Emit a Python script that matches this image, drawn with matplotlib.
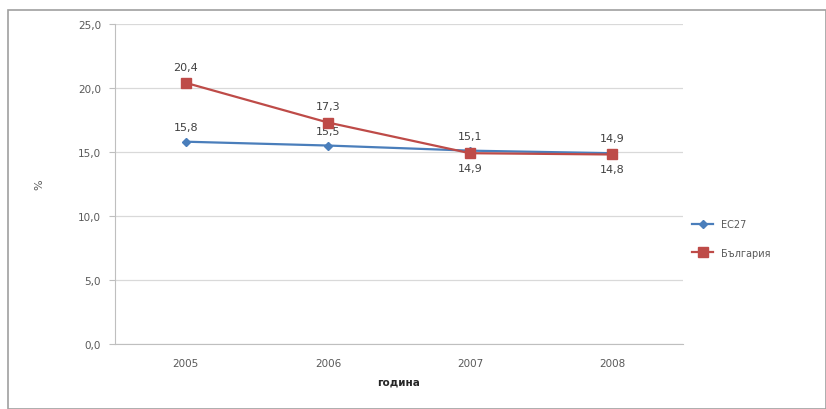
import numpy as np
import matplotlib as mpl
mpl.use('Agg')
import matplotlib.pyplot as plt
from matplotlib.patches import Rectangle

years = ['2005', '2006', '2007', '2008']
eu27 = [15.8, 15.5, 15.1, 14.9]
bulgaria = [20.4, 17.3, 14.9, 14.8]
yticks = [0, 5, 10, 15, 20, 25]

C_EU = '#4A7EBB'
C_BG = '#BE4B48'
TXT = '#595959'

fig = plt.figure(figsize=(8.26, 4.10), dpi=100)
fig.patches.append(Rectangle((0.010, 0.0), 0.99, 0.972, transform=fig.transFigure,
                             fill=False, edgecolor='#A0A0A0', lw=1.2))
ax = fig.add_axes([0.139, 0.159, 0.688, 0.780])

x = np.arange(len(years))
ax.plot(x, eu27, color=C_EU, lw=1.6, marker='D', ms=4, label='ЕС27', zorder=3)
ax.plot(x, bulgaria, color=C_BG, lw=1.6, marker='s', ms=7, label='България', zorder=4)

for i, v in enumerate(eu27):
    ax.annotate(f'{v:.1f}'.replace('.', ','), (i, v), xytext=(0, 7), textcoords='offset points',
                ha='center', va='bottom', fontsize=8, color='#404040')
for i, v in enumerate(bulgaria):
    off = (0, 8) if i < 2 else (0, -7)
    va = 'bottom' if i < 2 else 'top'
    ax.annotate(f'{v:.1f}'.replace('.', ','), (i, v), xytext=off, textcoords='offset points',
                ha='center', va=va, fontsize=8, color='#404040')

ax.set_xlim(-0.5, len(years) - 0.5)
ax.set_ylim(0, 25)
ax.set_yticks(yticks)
ax.set_yticklabels([f'{t:.1f}'.replace('.', ',') for t in yticks], fontsize=7.5, color=TXT)
ax.set_xticks(x)
ax.set_xticklabels(years, fontsize=7.5, color=TXT)
ax.tick_params(axis='x', length=0, pad=10)
ax.tick_params(axis='y', length=4, color='#BFBFBF', pad=6)
ax.grid(axis='y', color='#D9D9D9', lw=0.9)
ax.set_axisbelow(True)
for s in ['top', 'right']:
    ax.spines[s].set_visible(False)
ax.spines['left'].set_color('#BFBFBF')
ax.spines['bottom'].set_color('#BFBFBF')

ax.set_xlabel('година', fontsize=7.5, fontweight='bold', color='#262626', labelpad=6)
ax.set_ylabel('%', fontsize=8, color=TXT, labelpad=24)

ax.legend(loc='center left', bbox_to_anchor=(1.0, 0.33), frameon=False, fontsize=7,
          handlelength=2.2, labelcolor=TXT, labelspacing=1.9)

fig.savefig('out.png', dpi=100, facecolor='white')
